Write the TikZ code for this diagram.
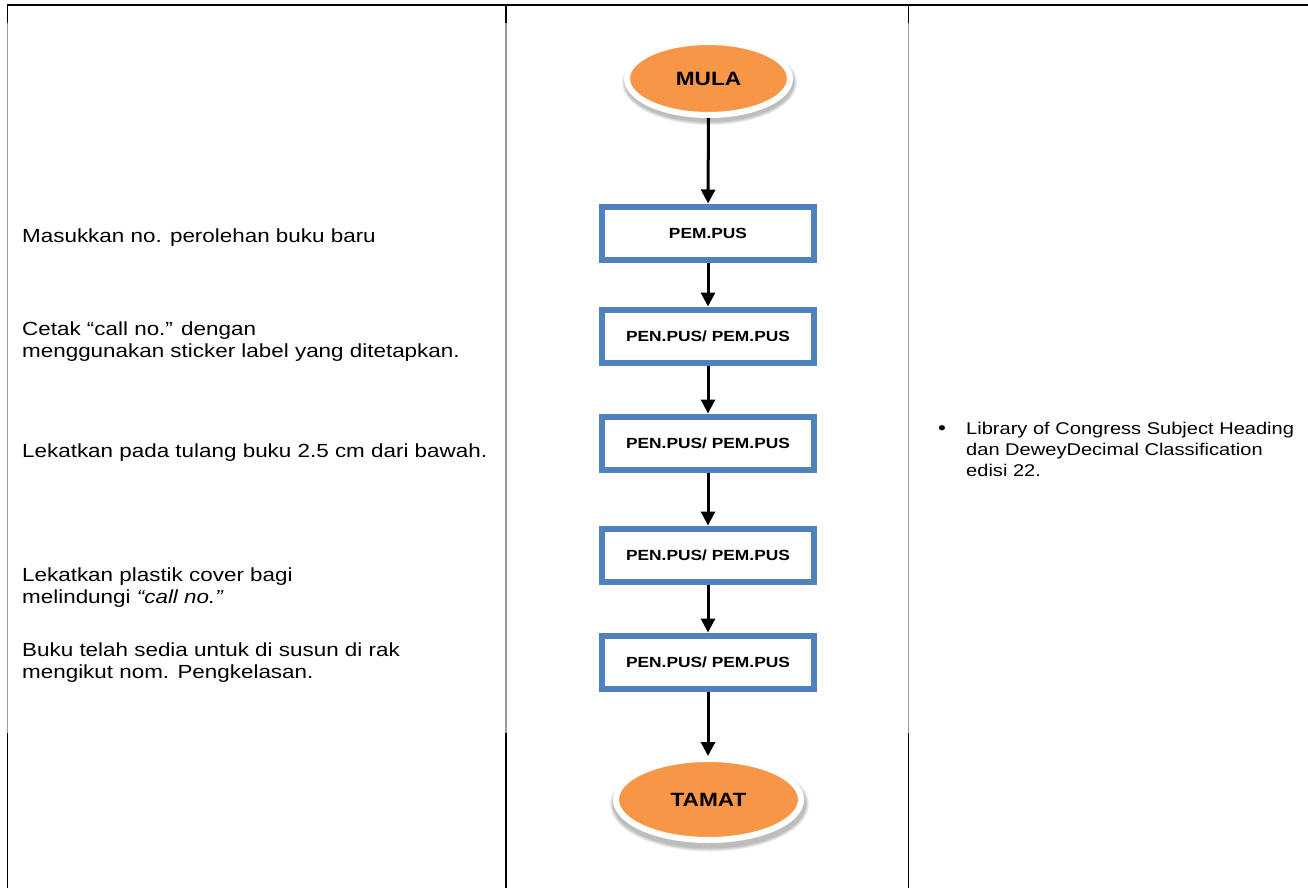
\documentclass[tikz,border=0pt]{standalone}
\usepackage{fontspec}
\setmainfont{Liberation Sans}[FakeStretch=1.18]
\usetikzlibrary{shapes.geometric,arrows.meta}

\definecolor{termorange}{HTML}{F79646}
\definecolor{boxblue}{HTML}{4F81BD}
\definecolor{rulegray}{HTML}{9A9A9A}

\tikzset{
  rulebold/.style={black, line width=1.6pt},
  rulesoft/.style={rulegray, line width=1.6pt},
  terminal/.style={ellipse, fill=termorange, draw=white, line width=6pt,
    inner sep=0pt, outer sep=0pt, font=\fontsize{19.2}{22}\selectfont\bfseries},
  stepbox/.style={rectangle, draw=boxblue, line width=6pt, fill=white,
    minimum width=212pt, minimum height=53pt, inner sep=0pt, outer sep=0pt,
    font=\fontsize{14.7}{17}\selectfont\bfseries},
  flow/.style={line width=3pt, -{Triangle[length=14pt,width=14pt]},
    shorten >=3pt, shorten <=3pt},
  lefttext/.style={anchor=base west, inner sep=0pt, font=\fontsize{19}{22}\selectfont},
  righttext/.style={anchor=base west, inner sep=0pt, font=\fontsize{17}{21}\selectfont},
  softshadow/.style={black, opacity=0.07},
}

\begin{document}
\begin{tikzpicture}[x=1pt,y=-1pt]
  \useasboundingbox (0,0) rectangle (1308,888);
  \fill[white] (0,0) rectangle (1308,888);

  % table rules
  \draw[rulebold] (6.7,5) -- (1308,5);
  \draw[rulebold] (7.5,5) -- (7.5,23);
  \draw[rulesoft] (7.5,23) -- (7.5,733);
  \draw[rulebold] (7.5,733) -- (7.5,888);
  \draw[black, line width=1.2pt] (506,5) -- (506,23);
  \draw[rulesoft, line width=1.4pt] (506,23) -- (506,733);
  \draw[black, line width=1.2pt] (506,733) -- (506,888);
  \draw[black, line width=1.2pt] (908.5,5) -- (908.5,23);
  \draw[rulesoft, line width=1.4pt] (908.5,23) -- (908.5,733);
  \draw[black, line width=1.2pt] (908.5,733) -- (908.5,888);

  % soft shadows under the terminals
  \foreach \k in {0,1,2,3} {
    \fill[softshadow] (709.5,82.5) ellipse [x radius={84.5pt+\k pt}, y radius={39.5pt+\k pt}];
    \fill[softshadow] (709.5,804) ellipse [x radius={96.5pt+\k pt}, y radius={44.5pt+\k pt}];
  }

  % flowchart
  \node[terminal, minimum width=163pt, minimum height=73pt] (mula) at (708.5,78.5) {MULA};
  \node[stepbox] (s1) at (708,233) {PEM.PUS};
  \node[stepbox] (s2) at (708,336) {PEN.PUS/ PEM.PUS};
  \node[stepbox] (s3) at (708,443) {PEN.PUS/ PEM.PUS};
  \node[stepbox] (s4) at (708,555) {PEN.PUS/ PEM.PUS};
  \node[stepbox] (s5) at (708,662) {PEN.PUS/ PEM.PUS};
  \node[terminal, minimum width=185pt, minimum height=81pt] (tamat) at (708.5,799.5) {TAMAT};

  \draw[flow] (mula) -- (s1);
  \draw[flow] (s1) -- (s2);
  \draw[flow] (s2) -- (s3);
  \draw[flow] (s3) -- (s4);
  \draw[flow] (s4) -- (s5);
  \draw[flow] (s5.south) -- (s5.south |- tamat.north);

  % step descriptions
  \node[lefttext] (t1) at (22,242) {Masukkan no. perolehan buku baru};
  \node[lefttext] (t2a) at (22,335) {Cetak “call no.” dengan};
  \node[lefttext] (t2b) at (22,357) {menggunakan sticker label yang ditetapkan.};
  \node[lefttext] (t3) at (22,457) {Lekatkan pada tulang buku 2.5 cm dari bawah.};
  \node[lefttext] (t4a) at (22,581) {Lekatkan plastik cover bagi};
  \node[lefttext] (t4b) at (22,603) {melindungi \textit{“call no.”}};
  \node[lefttext] (t5a) at (22,656) {Buku telah sedia untuk di susun di rak};
  \node[lefttext] (t5b) at (22,678) {mengikut nom. Pengkelasan.};

  % reference notes
  \node[righttext, anchor=base, font=\fontsize{19}{21}\selectfont] (bullet) at (942,434) {•};
  \node[righttext] (r1) at (966,434) {Library of Congress Subject Heading};
  \node[righttext] (r2) at (966,455) {dan DeweyDecimal Classification};
  \node[righttext] (r3) at (966,476) {edisi 22.};
\end{tikzpicture}
\end{document}
